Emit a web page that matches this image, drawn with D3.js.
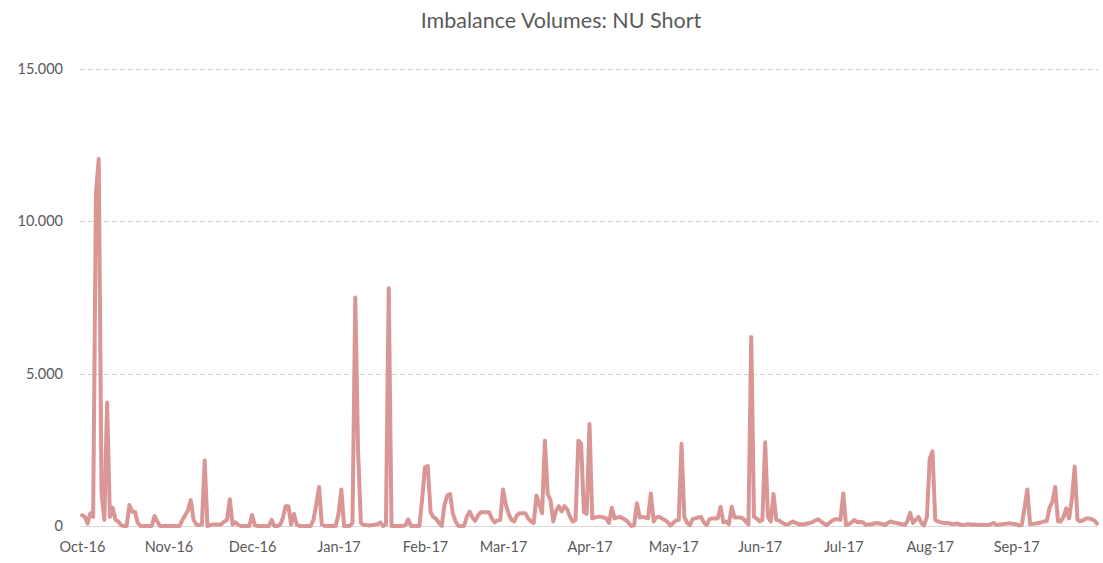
<!DOCTYPE html>
<html>
<head>
<meta charset="utf-8">
<script src="https://cdn.jsdelivr.net/npm/d3@7"></script>
<style>
  body { margin: 0; background: #fff; }
  .tick text { font-family: Lato, "Open Sans", sans-serif; fill: #595959; }
</style>
</head>
<body>
<div id="chart"></div>
<script>
// daily values, one array per month (Oct 2016 - Sep 2017)
const oct16 = [350, 300, 80, 420, 300, 10900, 12050, 1100, 200, 4050, 300, 600, 200, 150, 30, 0, 0, 690, 470, 470, 100, 0, 0, 0, 0, 0, 330, 150, 0, 0, 0];
const nov16 = [0, 0, 0, 0, 0, 200, 350, 520, 850, 200, 50, 30, 50, 2150, 0, 30, 50, 50, 40, 60, 150, 200, 880, 50, 120, 40, 0, 0, 0, 0];
const dec16 = [360, 20, 0, 0, 0, 0, 0, 200, 0, 0, 30, 250, 650, 650, 50, 400, 50, 0, 0, 0, 0, 0, 200, 700, 1280, 50, 0, 0, 0, 0, 0];
const jan17 = [400, 1200, 0, 0, 0, 100, 7500, 2500, 100, 30, 30, 20, 30, 40, 60, 120, 0, 50, 7800, 0, 0, 0, 0, 0, 30, 220, 0, 0, 0, 0, 900];
const feb17 = [1930, 1970, 450, 300, 230, 100, 0, 700, 1000, 1050, 400, 150, 0, 0, 0, 300, 470, 280, 170, 350, 450, 450, 450, 450, 240, 120, 180, 200];
const mar17 = [1200, 700, 400, 200, 150, 350, 420, 420, 420, 250, 150, 100, 1000, 700, 420, 2800, 1050, 850, 150, 500, 650, 480, 650, 550, 300, 150, 200, 2800, 2700, 450, 400];
const apr17 = [3350, 250, 280, 300, 300, 280, 250, 100, 600, 250, 280, 300, 250, 200, 100, 0, 20, 750, 280, 300, 280, 250, 1070, 150, 280, 300, 250, 200, 130, 20];
const may17 = [100, 180, 200, 2700, 300, 100, 30, 230, 250, 280, 300, 120, 30, 220, 250, 250, 250, 630, 120, 150, 60, 630, 280, 280, 280, 250, 150, 50, 6200, 300, 250];
const jun17 = [150, 200, 2750, 300, 150, 1050, 200, 180, 120, 60, 50, 100, 150, 100, 60, 60, 60, 80, 100, 130, 180, 220, 150, 80, 30, 100, 170, 220, 220, 200];
const jul17 = [1070, 30, 60, 120, 200, 120, 130, 120, 40, 50, 60, 80, 100, 80, 70, 30, 100, 150, 120, 100, 80, 60, 30, 150, 430, 100, 200, 300, 100, 20, 300];
const aug17 = [2200, 2450, 200, 150, 120, 100, 100, 90, 60, 70, 80, 50, 30, 50, 60, 40, 50, 40, 30, 40, 30, 40, 60, 100, 30, 50, 60, 70, 80, 80, 70];
const sep17 = [60, 20, 30, 600, 1200, 60, 70, 80, 100, 120, 150, 160, 600, 800, 1280, 150, 150, 300, 580, 250, 900, 1950, 200, 150, 180, 250, 250, 230, 180, 80];

const monthValues = [oct16, nov16, dec16, jan17, feb17, mar17, apr17, may17, jun17, jul17, aug17, sep17];
const yTicks = [0, 5000, 10000, 15000];
const title = "Imbalance Volumes: NU Short";

const startDate = new Date(2016, 9, 1);
const data = [];
monthValues.forEach((vals, m) => {
    vals.forEach((v, i) => {
        data.push({ date: new Date(2016, 9 + m, i + 1), value: v });
    });
});

const width = 1103, height = 563;

const svg = d3.select("#chart")
    .append("svg")
    .attr("width", width)
    .attr("height", height);

const xScale = d3.scaleTime()
    .domain([startDate, new Date(2017, 8, 30)])
    .range([82, 1097]);

const yScale = d3.scaleLinear()
    .domain([0, 15000])
    .range([526, 69]);

// gridlines
svg.append("g")
    .selectAll("line")
    .data(yTicks.filter(d => d > 0))
    .enter()
    .append("line")
    .attr("x1", 80)
    .attr("x2", 1098)
    .attr("y1", d => Math.round(yScale(d)) + 0.5)
    .attr("y2", d => Math.round(yScale(d)) + 0.5)
    .attr("stroke", "#d0d0d0")
    .attr("stroke-width", 1)
    .attr("stroke-dasharray", "5,3");

// y axis labels
const yAxis = d3.axisLeft(yScale)
    .tickValues(yTicks)
    .tickSize(0)
    .tickPadding(0)
    .tickFormat(d => d === 0 ? "0" : d3.format(",")(d).replace(/,/g, "."));

svg.append("g")
    .attr("transform", "translate(63,0)")
    .call(yAxis)
    .call(g => g.select(".domain").remove())
    .selectAll("text")
    .style("font-size", "14.5px");

// x axis
const xAxis = d3.axisBottom(xScale)
    .ticks(d3.timeMonth.every(1))
    .tickSize(0)
    .tickPadding(16)
    .tickFormat(d3.timeFormat("%b-%y"));

svg.append("g")
    .attr("transform", "translate(0,526)")
    .call(xAxis)
    .call(g => g.select(".domain").remove())
    .selectAll("text")
    .style("font-size", "14.5px");

svg.append("line")
    .attr("x1", 80)
    .attr("x2", 1098)
    .attr("y1", 526.5)
    .attr("y2", 526.5)
    .attr("stroke", "#d9d9d9")
    .attr("stroke-width", 1);

// the line
const line = d3.line()
    .x(d => xScale(d.date))
    .y(d => yScale(d.value));

svg.append("path")
    .datum(data)
    .attr("fill", "none")
    .attr("stroke", "#d99694")
    .attr("stroke-width", 4)
    .attr("stroke-linejoin", "round")
    .attr("stroke-linecap", "round")
    .attr("d", line);

svg.append("text")
    .attr("x", 561)
    .attr("y", 28)
    .attr("text-anchor", "middle")
    .style("font-family", "Lato, 'Open Sans', sans-serif")
    .style("font-size", "21.5px")
    .style("fill", "#595959")
    .text(title);
</script>
</body>
</html>
